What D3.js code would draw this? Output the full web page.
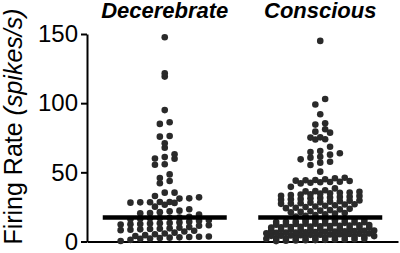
<!DOCTYPE html>
<html>
<head>
<meta charset="utf-8">
<script src="https://cdn.jsdelivr.net/npm/d3@7"></script>
<style>
  body { margin: 0; background: #fff; }
  text { font-family: "Liberation Sans", Arial, sans-serif; }
</style>
</head>
<body>
<div id="chart"></div>
<script>
// groups and firing rates (spikes/s)
const groups = ["Decerebrate", "Conscious"];

const decerebrate = [147.6, 121.6, 119.2, 95, 86.2, 85, 76.3, 75.8, 71, 67.8, 63, 61, 60, 59.8, 55.8, 55.5,
  48.5, 45.9, 43.7, 42.1, 35.3, 35.3, 32.9, 31.9, 31, 31.2,
  28.6, 28.4, 28.1, 27.9, 28.3, 28.6, 26.6, 25.2, 23.3,
  22.3, 21.8, 21.2, 20.6, 20.4, 19.5,
  17.8, 17.4, 17.1, 16.9, 16.8, 16.4, 16, 15.5, 15,
  14.2, 13.8, 13.4, 13.2, 13, 12.6, 12.4, 12.2, 11.8, 11.4,
  10.4, 9.9, 9.5, 9.2, 9, 8.8, 8.5, 8.2, 7.8, 7.2,
  6.4, 5.8, 5.2, 4.6, 4, 3.6, 3.4, 3.2, 3, 2.8, 2.5, 2.2, 2, 1.2, 0.4];

const conscious = [145, 103, 99, 92, 85.5, 84.5, 81.1, 79.4, 78.7, 75.3, 75.1, 73.9, 73.7, 68.5, 65.4, 64.7,
  63.8, 62.8, 61.3, 60.6, 59.4, 57.7, 57, 55.3, 50.5,
  46.1, 45.7, 45, 44.5, 44.3, 44, 43.7, 43.2, 43, 42.8, 42.5, 42, 39.5, 38.4,
  37.1, 36.4, 36.2, 35.9, 35.4, 35.2, 34.8, 34.6, 34.1, 33.9, 33.6, 33.1, 32.9, 32.4, 32.2, 31.8,
  31.5, 31.2, 30.7, 30.5, 30.1, 29.6, 29.4, 29.1, 28.8, 28.3, 28.1, 27.7, 27.4, 27.2, 26.9, 26.7,
  26.2, 25.8, 25.3, 24.9, 24.4, 24.1, 23.6, 23.2, 22.7, 22.3, 21.9, 21.4, 21.1, 20.6, 20.2, 19.7,
  19.1, 18.6, 18, 17.4,
  16.5, 16.3, 16.1, 15.9, 15.8, 15.6, 15.3, 15.1, 14.9, 14.6, 14.4, 14.2, 14.1, 13.9, 13.7, 13.5,
  13.2, 13, 12.9, 12.8, 12.6, 12.3, 12.1, 11.9, 11.7, 11.5, 11.4, 11.2, 11, 10.8, 10.6, 10.5,
  10.3, 10.1, 9.9, 9.7, 9.6, 9.4, 9.2, 9, 8.9, 8.7, 8.5, 8.3, 8.1, 7.9, 7.8, 7.6, 7.4, 7.2, 7.1,
  6.9, 6.7, 6.5, 6.4, 6.2, 6, 5.8, 5.6, 5.5, 5.3, 5.1, 4.9, 4.8, 4.6, 4.4, 4.2, 4.1, 3.9, 3.7,
  3.5, 3.4, 3.3, 3, 2.8, 2.7, 2.6, 2.4, 2.1, 2, 1.9, 1.7, 1.5, 1.4, 1.2, 1, 0.9, 0.7, 0.5, 0.3];

const yTicks = [0, 50, 100, 150];

// chart size
const margin = { top: 34, right: 2, bottom: 11.5, left: 87 };
const width = 400 - margin.left - margin.right;
const height = 253 - margin.top - margin.bottom;

const svg = d3.select("#chart")
  .append("svg")
    .attr("width", 400)
    .attr("height", 253)
  .append("g")
    .attr("transform", `translate(${margin.left},${margin.top})`);

const xScale = d3.scalePoint()
  .domain(groups)
  .range([0, width])
  .padding(0.5);

const yScale = d3.scaleLinear()
  .domain([0, 150])
  .range([height, 0]);

// prism-like scatter: bin the values, spread each bin sideways
function spread(values, thresholds, step) {
  const bins = d3.bin()
    .domain([0, 150])
    .thresholds(thresholds)(values.slice().sort(d3.ascending));
  const out = [];
  bins.forEach(b => {
    const n = b.length;
    b.forEach((v, i) => out.push({ v: v, dx: (i - (n - 1) / 2) * step }));
  });
  return out;
}

// bins are finer where the dots are dense
const series = [
  { name: "Decerebrate", values: decerebrate,
    bins: d3.range(0, 40, 4).concat(d3.range(40, 150, 5)) },
  { name: "Conscious", values: conscious,
    bins: d3.range(0, 18, 2).concat(d3.range(18, 39, 3), d3.range(39, 150, 5)) }
];

// axes
svg.append("g")
  .attr("class", "y-axis")
  .call(d3.axisLeft(yScale).tickValues(yTicks).tickSize(6).tickSizeOuter(0).tickPadding(3))
  .call(g => g.selectAll("path, line").attr("stroke", "#000").attr("stroke-width", 2))
  .call(g => g.selectAll("text").attr("font-size", 24).attr("fill", "#000")
    .attr("font-family", "'Liberation Sans', Arial, sans-serif"));

svg.append("g")
  .attr("transform", "translate(0," + height + ")")
  .call(d3.axisBottom(xScale).tickSize(0).tickSizeOuter(0).tickFormat(""))
  .call(g => g.select("path").attr("stroke", "#000").attr("stroke-width", 2));

// dots
series.forEach(s => {
  const cx = xScale(s.name);
  svg.append("g")
    .selectAll("circle")
    .data(spread(s.values, s.bins, 9.8))
    .enter().append("circle")
      .attr("cx", d => cx + d.dx)
      .attr("cy", d => yScale(d.v))
      .attr("r", 3.3)
      .style("fill", "#2a2a2a");

  // median line
  const med = d3.median(s.values);
  svg.append("line")
    .attr("x1", cx - 62)
    .attr("x2", cx + 62)
    .attr("y1", yScale(med))
    .attr("y2", yScale(med))
    .attr("stroke", "#000")
    .attr("stroke-width", 4.5);

  // group title
  svg.append("text")
    .attr("x", cx)
    .attr("y", 18 - margin.top)
    .style("text-anchor", "middle")
    .style("font-weight", "bold")
    .style("font-style", "italic")
    .style("font-size", "22px")
    .text(s.name);
});

// y axis title
const yTitle = svg.append("text")
  .attr("transform", "rotate(-90)")
  .attr("x", 0 - (126.5 - margin.top))
  .attr("y", 22 - margin.left)
  .style("text-anchor", "middle")
  .style("font-size", "25px");
yTitle.append("tspan").text("Firing Rate ");
yTitle.append("tspan").style("font-style", "italic").text("(spikes/s)");
</script>
</body>
</html>
